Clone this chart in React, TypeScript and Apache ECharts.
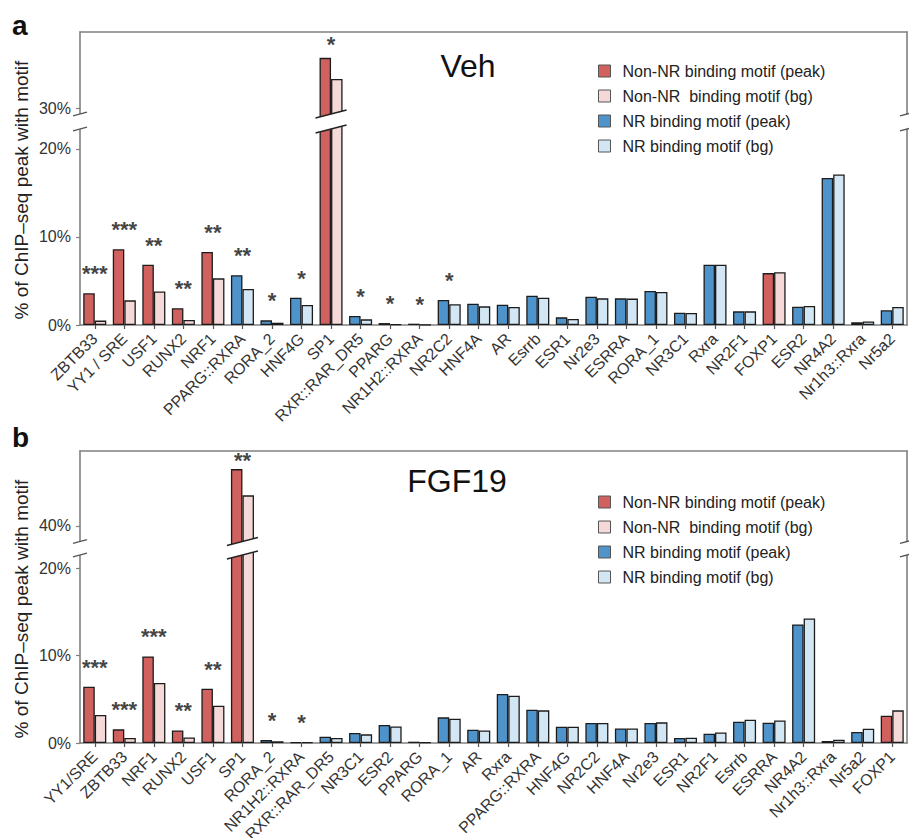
import React, { useEffect, useRef } from 'react';
import * as echarts from 'echarts';

// ---------------- data ----------------
const vehCategories = ['ZBTB33', 'YY1 / SRE', 'USF1', 'RUNX2', 'NRF1', 'PPARG::RXRA', 'RORA_2', 'HNF4G', 'SP1', 'RXR::RAR_DR5', 'PPARG', 'NR1H2::RXRA', 'NR2C2', 'HNF4A', 'AR', 'Esrrb', 'ESR1', 'Nr2e3', 'ESRRA', 'RORA_1', 'NR3C1', 'Rxra', 'NR2F1', 'FOXP1', 'ESR2', 'NR4A2', 'Nr1h3::Rxra', 'Nr5a2'];
const vehIsNR = [0, 0, 0, 0, 0, 1, 1, 1, 0, 1, 1, 1, 1, 1, 1, 1, 1, 1, 1, 1, 1, 1, 1, 0, 1, 1, 1, 1];
const vehPeak = [3.6, 8.6, 6.85, 1.9, 8.3, 5.65, 0.53, 3.1, 35.7, 1.02, 0.22, 0.15, 2.84, 2.42, 2.31, 3.33, 0.87, 3.22, 3.03, 3.86, 1.4, 6.85, 1.55, 5.9, 2.08, 16.7, 0.3, 1.67];
const vehBg = [0.5, 2.8, 3.8, 0.57, 5.3, 4.1, 0.26, 2.27, 33.3, 0.64, 0.08, 0.05, 2.35, 2.12, 2.05, 3.1, 0.68, 3.03, 3.0, 3.75, 1.36, 6.85, 1.55, 6.0, 2.16, 17.1, 0.4, 2.05];
const vehStars = ['***', '***', '**', '**', '**', '**', '*', '*', '*', '*', '*', '*', '*', '', '', '', '', '', '', '', '', '', '', '', '', '', '', ''];

const fgfCategories = ['YY1/SRE', 'ZBTB33', 'NRF1', 'RUNX2', 'USF1', 'SP1', 'RORA_2', 'NR1H2::RXRA', 'RXR::RAR_DR5', 'NR3C1', 'ESR2', 'PPARG', 'RORA_1', 'AR', 'Rxra', 'PPARG::RXRA', 'HNF4G', 'NR2C2', 'HNF4A', 'Nr2e3', 'ESR1', 'NR2F1', 'Esrrb', 'ESRRA', 'NR4A2', 'Nr1h3::Rxra', 'Nr5a2', 'FOXP1'];
const fgfIsNR = [0, 0, 0, 0, 0, 0, 1, 1, 1, 1, 1, 1, 1, 1, 1, 1, 1, 1, 1, 1, 1, 1, 1, 1, 1, 1, 1, 0];
const fgfPeak = [6.43, 1.56, 9.9, 1.44, 6.2, 46.5, 0.34, 0.1, 0.72, 1.14, 2.06, 0.15, 2.93, 1.52, 5.6, 3.8, 1.86, 2.28, 1.67, 2.28, 0.57, 1.06, 2.43, 2.32, 13.55, 0.23, 1.26, 3.12];
const fgfBg = [3.2, 0.57, 6.85, 0.64, 4.26, 43.5, 0.2, 0.08, 0.57, 0.99, 1.9, 0.08, 2.78, 1.44, 5.4, 3.73, 1.86, 2.28, 1.67, 2.36, 0.6, 1.21, 2.66, 2.58, 14.24, 0.38, 1.63, 3.73];
const fgfStars = ['***', '***', '***', '**', '**', '**', '*', '*', '', '', '', '', '', '', '', '', '', '', '', '', '', '', '', '', '', '', '', ''];

const seriesNames = ['Non-NR binding motif (peak)', 'Non-NR  binding motif (bg)', 'NR binding motif (peak)', 'NR binding motif (bg)'];
const seriesColors = ['#d0615e', '#f4d9d8', '#4f93cb', '#d3e6f4'];

const vehUpperTicks = [30];
const vehLowerTicks = [0, 10, 20];
const fgfUpperTicks = [40];
const fgfLowerTicks = [0, 10, 20];

const yTitle = '% of ChIP\u2013seq peak with motif';

// ---------------- layout ----------------
const FONT = '"Liberation Sans", Arial, Helvetica, sans-serif';
const GRID_LEFT = 80;
const GRID_RIGHT = 2;
const W = 909;
const H = 838;
const SLOPE = 0.26;
const AXIS_COLOR = '#808080';

const panels = [
  {
    letter: 'a', title: 'Veh', cats: vehCategories, isNR: vehIsNR, peak: vehPeak, bg: vehBg, stars: vehStars,
    upper: { top: 32, bottom: 119, min: 28.75, max: 38.64, ticks: vehUpperTicks },
    lower: { top: 124, bottom: 325, min: 0, max: 22.84, ticks: vehLowerTicks },
    breakA: 114, breakB: 129, legendTop: 63, titleX: 468, titleY: 66, letterY: 25, yTitleY: 190, upperStarDist: 2,
  },
  {
    letter: 'b', title: 'FGF19', cats: fgfCategories, isNR: fgfIsNR, peak: fgfPeak, bg: fgfBg, stars: fgfStars,
    upper: { top: 451, bottom: 546, min: 37.71, max: 48.57, ticks: fgfUpperTicks },
    lower: { top: 550, bottom: 743, min: 0, max: 22.06, ticks: fgfLowerTicks },
    breakA: 541.5, breakB: 555, legendTop: 494, titleX: 457, titleY: 481, letterY: 437, yTitleY: 609, upperStarDist: -3,
  },
];

function buildOption() {
  const grid: any[] = [];
  const xAxis: any[] = [];
  const yAxis: any[] = [];
  const series: any[] = [];
  const legend: any[] = [];
  const graphic: any[] = [];

  panels.forEach((p, pi) => {
    (['upper', 'lower'] as const).forEach((part, k) => {
      const g = pi * 2 + k;
      const seg = p[part];
      grid.push({
        left: GRID_LEFT, right: GRID_RIGHT, top: seg.top, height: seg.bottom - seg.top,
        containLabel: false, outerBoundsMode: 'none',
      });
      const isLower = part === 'lower';
      xAxis.push({
        type: 'category', gridIndex: g, data: p.cats, position: isLower ? 'bottom' : 'top',
        axisLine: { show: true, onZero: false, lineStyle: { color: AXIS_COLOR, width: 1.6 } },
        axisTick: { show: isLower, alignWithLabel: true, length: 4, lineStyle: { color: '#555', width: 1.2 } },
        axisLabel: {
          show: isLower, interval: 0, rotate: 45, margin: 11, fontSize: 16, color: '#333', fontFamily: FONT,
          hideOverlap: false,
        },
        splitLine: { show: false },
      });
      yAxis.push({
        type: 'value', gridIndex: g, position: 'left', min: seg.min, max: seg.max,
        axisLine: { show: true, lineStyle: { color: AXIS_COLOR, width: 1.6 } },
        axisTick: { show: true, length: 4, customValues: seg.ticks, lineStyle: { color: AXIS_COLOR, width: 1.2 } },
        axisLabel: {
          show: true, customValues: seg.ticks, formatter: (v: number) => v + '%', margin: 9,
          fontSize: 16, color: '#333', fontFamily: FONT,
        },
        splitLine: { show: false },
      });
      yAxis.push({
        type: 'value', gridIndex: g, position: 'right', min: seg.min, max: seg.max,
        axisLine: { show: true, lineStyle: { color: AXIS_COLOR, width: 1.6 } },
        axisTick: { show: false }, axisLabel: { show: false }, splitLine: { show: false },
      });

      const mk = (name: string, color: string, stack: string, vals: number[], nr: boolean) => ({
        type: 'bar', name, xAxisIndex: g, yAxisIndex: g * 2, stack,
        barGap: '0%', barCategoryGap: '22%',
        itemStyle: { color, borderColor: '#1c1c1c', borderWidth: 1.3 },
        data: vals.map((v, i) => (!!p.isNR[i] === nr ? v : '-')),
        z: 2,
      });
      series.push(mk(seriesNames[0], seriesColors[0], `g${g}peak`, p.peak, false));
      series.push(mk(seriesNames[2], seriesColors[2], `g${g}peak`, p.peak, true));
      series.push(mk(seriesNames[1], seriesColors[1], `g${g}bg`, p.bg, false));
      series.push(mk(seriesNames[3], seriesColors[3], `g${g}bg`, p.bg, true));

      const lowerMax = p.lower.max;
      series.push({
        type: 'scatter', name: 'stars', xAxisIndex: g, yAxisIndex: g * 2,
        symbol: 'circle', symbolSize: 1, itemStyle: { color: 'rgba(0,0,0,0)' }, silent: true,
        data: p.cats.map((_, i) => {
          const m = Math.max(p.peak[i], p.bg[i]);
          if (!p.stars[i]) return '-';
          if (isLower ? m <= lowerMax : m > lowerMax) return m;
          return '-';
        }),
        label: {
          show: true, position: 'top', distance: isLower ? 8 : p.upperStarDist,
          formatter: (pr: any) => p.stars[pr.dataIndex],
          fontSize: 22, fontWeight: 'bold', color: '#111', fontFamily: FONT,
        },
        z: 5,
      });
    });

    legend.push({
      data: [seriesNames[0], seriesNames[1], seriesNames[2], seriesNames[3]],
      orient: 'vertical', left: 598, top: p.legendTop, icon: 'rect', padding: 0,
      itemWidth: 12, itemHeight: 12, itemGap: 9, selectedMode: false,
      itemStyle: { borderColor: '#555', borderWidth: 1 },
      textStyle: { fontSize: 16, color: '#222', fontFamily: FONT, padding: [0, 0, 0, 7] },
    });

    graphic.push({
      type: 'text', x: 12, y: p.letterY, z: 50,
      style: { text: p.letter, fontSize: 28, fontWeight: 'bold', fill: '#111', fontFamily: FONT, textVerticalAlign: 'middle' },
    });
    graphic.push({
      type: 'text', x: p.titleX, y: p.titleY, z: 50,
      style: { text: p.title, fontSize: 32, fill: '#111', fontFamily: FONT, textAlign: 'center', textVerticalAlign: 'middle' },
    });
    graphic.push({
      type: 'text', x: 21, y: p.yTitleY, rotation: Math.PI / 2, z: 50,
      style: { text: yTitle, fontSize: 19, fill: '#222', fontFamily: FONT, textAlign: 'center', textVerticalAlign: 'middle' },
    });
  });

  return {
    animation: false,
    backgroundColor: '#ffffff',
    textStyle: { fontFamily: FONT },
    grid, xAxis, yAxis, series, legend, graphic,
  };
}

function breakMark(xc: number, hw: number, yA: number, yB: number, color: string, width: number) {
  const x0 = xc - hw;
  const x1 = xc + hw;
  const a0 = yA + SLOPE * hw;
  const a1 = yA - SLOPE * hw;
  const b0 = yB + SLOPE * hw;
  const b1 = yB - SLOPE * hw;
  return [
    { type: 'polygon', z: 100, shape: { points: [[x0, a0], [x1, a1], [x1, b1], [x0, b0]] }, style: { fill: '#ffffff', stroke: null } },
    { type: 'line', z: 101, shape: { x1: x0, y1: a0, x2: x1, y2: a1 }, style: { stroke: color, lineWidth: width } },
    { type: 'line', z: 101, shape: { x1: x0, y1: b0, x2: x1, y2: b1 }, style: { stroke: color, lineWidth: width } },
  ];
}

export default function App() {
  const ref = useRef<HTMLDivElement>(null);
  useEffect(() => {
    document.body.style.margin = '0';
    if (!ref.current) return;
    const chart = echarts.init(ref.current, null, { renderer: 'svg' });
    const option: any = buildOption();
    chart.setOption(option);

    const extra: any[] = [];
    panels.forEach((p, pi) => {
      const g = pi * 2 + 1;
      const sp1 = p.cats.indexOf('SP1');
      const xc = chart.convertToPixel({ xAxisIndex: g } as any, sp1 as any) as unknown as number;
      const xl = chart.convertToPixel({ xAxisIndex: g } as any, 0 as any) as unknown as number;
      const xr = chart.convertToPixel({ xAxisIndex: g } as any, 1 as any) as unknown as number;
      const band = Math.abs(xr - xl);
      const hwBar = band * 0.78 / 2 + 4;
      extra.push(...breakMark(xc, hwBar, p.breakA, p.breakB, '#222', 1.4));
      extra.push(...breakMark(GRID_LEFT, 7, p.breakA, p.breakB, '#555', 1.4));
      extra.push(...breakMark(W - GRID_RIGHT, 7, p.breakA, p.breakB, '#555', 1.4));
    });
    chart.setOption({ graphic: [...option.graphic, ...extra] });

    return () => chart.dispose();
  }, []);
  return <div ref={ref} style={{ width: W, height: H }} />;
}
